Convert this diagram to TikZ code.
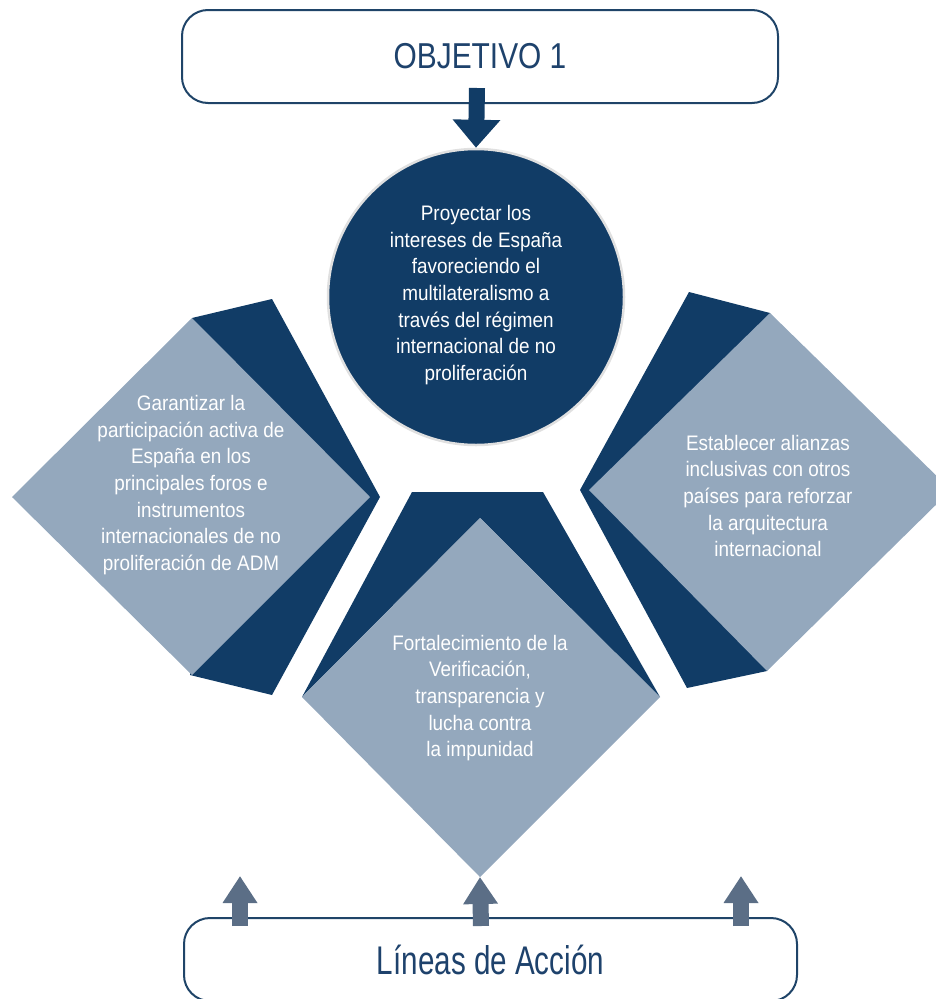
\documentclass[tikz,border=0pt]{standalone}
\usepackage{fontspec}
\setmainfont{Liberation Sans}
\newfontfamily\bodyfont[FakeStretch=0.9]{Liberation Sans}
\newfontfamily\headfont[FakeStretch=0.83]{Liberation Sans}
\newfontfamily\footfont[FakeStretch=0.74]{Liberation Sans}
\usetikzlibrary{arrows.meta}
\definecolor{navy}{RGB}{17,60,102}
\definecolor{steel}{RGB}{148,168,189}
\definecolor{slate}{RGB}{91,110,134}
\definecolor{boxline}{RGB}{31,68,104}
\definecolor{headtxt}{RGB}{30,66,108}
\begin{document}
\begin{tikzpicture}[x=1pt,y=-1pt,
  txt/.style={text=white, align=center, inner sep=0pt, font=\bodyfont\fontsize{21}{26.7}\selectfont},
  frame/.style={draw=boxline, line width=2pt, rounded corners=26pt, fill=white, inner sep=0pt, text=headtxt},
  blockup/.style={line width=16pt, slate, -{Triangle[width=33pt,length=27pt]}},
  blockdown/.style={line width=16pt, navy, -{Triangle[width=46pt,length=28pt]}},
]
\useasboundingbox (0,0) rectangle (936,999);
% top frame
\node[frame, minimum width=596pt, minimum height=93pt,
      font=\headfont\fontsize{36}{42}\selectfont] (obj) at (480,56.5) {OBJETIVO 1};
% left diamond
\fill[navy] (192,318) -- (272,299) -- (380,497) -- (272,695) -- (190,675) -- cycle;
\fill[steel] (12,497) -- (192,318) -- (370,497) -- (192,675) -- cycle;
% right diamond
\fill[navy] (770,313) -- (689,292) -- (580,490) -- (687,688) -- (767,671) -- cycle;
\fill[steel] (589,490) -- (770,313) -- (951,490) -- (767,671) -- cycle;
% bottom diamond
\fill[navy] (302,697) -- (412,492) -- (543,492) -- (660,697) -- (480,518) -- cycle;
\fill[steel] (302,697) -- (480,518) -- (660,697) -- (480,877) -- cycle;
\coordinate (dbot) at (480,877);
% circle
\node[circle, fill=navy, draw=black!12, line width=2.5pt, minimum size=296pt, inner sep=0pt] (circ) at (476,297) {};
\node[txt] (ctxt) at (476,295) {Proyectar los\\intereses de España\\favoreciendo el\\multilateralismo a\\través del régimen\\internacional de no\\proliferación};
% diamond texts
\node[txt] (ltxt) at (191,485) {Garantizar la\\participación activa de\\España en los\\principales foros e\\instrumentos\\internacionales de no\\proliferación de ADM};
\node[txt] (rtxt) at (768,496) {Establecer alianzas\\inclusivas con otros\\países para reforzar\\la arquitectura\\internacional};
\node[txt] (btxt) at (480,698) {Fortalecimiento de la\\Verificación,\\transparencia y\\lucha contra\\la impunidad};
% top arrow
\coordinate (a0) at (477,88);
\draw[blockdown] (a0) -- (circ.north);
% bottom frame
\node[frame, minimum width=613pt, minimum height=83pt,
      font=\footfont\fontsize{40}{46}\selectfont] (lin) at (490.5,959.5) {Líneas de Acción};
% bottom arrows
\coordinate (b1s) at (240,926);
\coordinate (b1e) at (240,876);
\coordinate (b2s) at (481,926);
\coordinate (b3s) at (741,926);
\coordinate (b3e) at (741,876);
\draw[blockup] (b1s) -- (b1e);
\draw[blockup] (b2s) -- (dbot);
\draw[blockup] (b3s) -- (b3e);
\end{tikzpicture}
\end{document}
